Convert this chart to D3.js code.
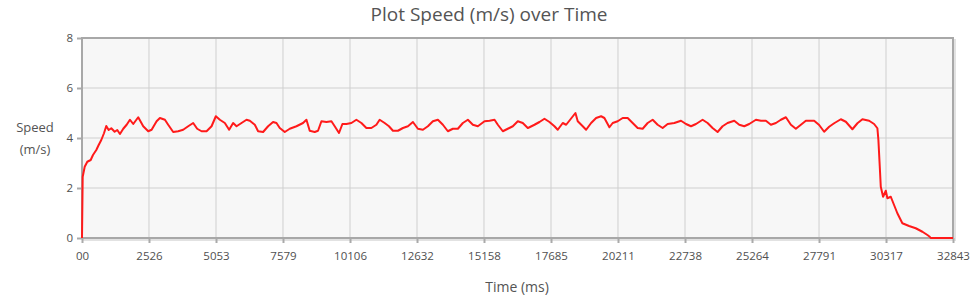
<!doctype html>
<html>
<head>
<meta charset="utf-8">
<script src="https://d3js.org/d3.v7.min.js"></script>
<style>
  body { margin: 0; background: #fff; }
  text { font-family: "Open Sans", sans-serif; fill: #545454; }
</style>
</head>
<body>
<svg width="980" height="298"></svg>
<script>

var timeMs = [0, 26, 102, 200, 328, 414, 539, 629, 727, 829, 915, 1006, 1104, 1232, 1330,
  1431, 1556, 1684, 1808, 1932, 2120, 2309, 2497, 2625, 2813, 2938, 3126, 3250, 3439, 3627,
  3815, 4004, 4192, 4343, 4508, 4697, 4885, 5047, 5198, 5386, 5548, 5699, 5827, 6015, 6203,
  6328, 6516, 6640, 6829, 7017, 7205, 7333, 7457, 7646, 7834, 8086, 8335, 8463, 8587, 8776,
  8900, 9028, 9216, 9405, 9529, 9691, 9819, 9970, 10158, 10346, 10535, 10723, 10911, 11100, 11224,
  11412, 11574, 11725, 11913, 12102, 12290, 12478, 12666, 12855, 13043, 13231, 13420, 13608, 13796, 13985,
  14173, 14361, 14550, 14738, 14926, 15179, 15367, 15555, 15680, 15868, 16056, 16245, 16433, 16621, 16810,
  16873, 17062, 17250, 17438, 17627, 17815, 17939, 18128, 18256, 18406, 18606, 18693, 18881, 19009, 19197,
  19386, 19574, 19698, 19887, 20011, 20199, 20388, 20576, 20764, 20953, 21141, 21329, 21518, 21706, 21894,
  22083, 22335, 22587, 22775, 22963, 23152, 23401, 23589, 23777, 23966, 24154, 24342, 24594, 24783, 24971,
  25159, 25412, 25600, 25788, 25977, 26165, 26353, 26542, 26730, 26918, 27107, 27295, 27419, 27608, 27796,
  27984, 28173, 28361, 28613, 28802, 29050, 29239, 29427, 29680, 29868, 29992, 30030, 30082, 30120, 30207,
  30309, 30369, 30497, 30621, 30745, 30934, 31186, 31438, 31690, 31878, 31966, 32003, 32843];

var speed = [0, 2.45, 2.85, 3.05, 3.12, 3.32, 3.52, 3.72, 3.92, 4.19, 4.48, 4.32, 4.39, 4.25, 4.32,
  4.16, 4.37, 4.53, 4.73, 4.56, 4.83, 4.47, 4.27, 4.33, 4.67, 4.8, 4.73, 4.53, 4.24, 4.27,
  4.33, 4.47, 4.6, 4.37, 4.27, 4.27, 4.47, 4.87, 4.73, 4.6, 4.33, 4.6, 4.47, 4.6, 4.73,
  4.69, 4.53, 4.27, 4.24, 4.47, 4.64, 4.6, 4.4, 4.24, 4.37, 4.47, 4.6, 4.73, 4.29, 4.24,
  4.29, 4.67, 4.64, 4.67, 4.47, 4.2, 4.56, 4.56, 4.6, 4.73, 4.6, 4.4, 4.4, 4.53, 4.73,
  4.6, 4.47, 4.29, 4.29, 4.4, 4.47, 4.64, 4.37, 4.33, 4.47, 4.67, 4.73, 4.53, 4.27, 4.37,
  4.37, 4.6, 4.73, 4.53, 4.47, 4.67, 4.69, 4.73, 4.53, 4.27, 4.37, 4.47, 4.67, 4.6, 4.4,
  4.43, 4.53, 4.64, 4.77, 4.64, 4.47, 4.33, 4.6, 4.53, 4.73, 5.0, 4.67, 4.47, 4.33, 4.6,
  4.8, 4.87, 4.8, 4.43, 4.6, 4.67, 4.8, 4.8, 4.6, 4.4, 4.37, 4.6, 4.73, 4.53, 4.4,
  4.56, 4.6, 4.69, 4.56, 4.47, 4.56, 4.73, 4.6, 4.4, 4.24, 4.47, 4.6, 4.69, 4.53, 4.47,
  4.56, 4.73, 4.69, 4.69, 4.53, 4.6, 4.73, 4.83, 4.53, 4.37, 4.53, 4.69, 4.69, 4.69, 4.52,
  4.25, 4.45, 4.59, 4.75, 4.65, 4.35, 4.59, 4.75, 4.69, 4.56, 4.39, 3.92, 2.85, 2.05, 1.65,
  1.89, 1.59, 1.65, 1.32, 0.99, 0.59, 0.48, 0.39, 0.25, 0.12, 0.05, 0, 0];

var xTickValues = [0, 2526, 5053, 7579, 10106, 12632, 15158, 17685, 20211, 22738, 25264, 27791, 30317, 32843];
var xTickLabels = ["00", "2526", "5053", "7579", "10106", "12632", "15158", "17685", "20211", "22738", "25264", "27791", "30317", "32843"];
var yTickValues = [0, 2, 4, 6, 8];

var data = timeMs.map(function(t, i) { return {t: t, v: speed[i]}; });

var svg = d3.select("svg");
var plotLeft = 82, plotRight = 953, plotTop = 38, plotBottom = 238;
var width = plotRight - plotLeft, height = plotBottom - plotTop;

var x = d3.scaleLinear().domain([0, 32843]).range([0, width]);
var y = d3.scaleLinear().domain([0, 8]).range([height, 0]);

svg.append("text")
   .attr("x", 489)
   .attr("y", 21)
   .attr("text-anchor", "middle")
   .attr("font-size", "19px")
   .text("Plot Speed (m/s) over Time");

var g = svg.append("g").attr("transform", "translate(" + plotLeft + "," + plotTop + ")");

// soft shadow on right/bottom
g.append("rect")
 .attr("x", 2).attr("y", 2)
 .attr("width", width).attr("height", height)
 .attr("fill", "none")
 .attr("stroke", "#e2e2e2")
 .attr("stroke-width", 2);

g.append("rect")
 .attr("width", width).attr("height", height)
 .attr("fill", "#f7f7f7");

// grid
g.append("g")
 .selectAll("line")
 .data(xTickValues.slice(1, -1))
 .enter().append("line")
 .attr("x1", function(d) { return x(d); })
 .attr("x2", function(d) { return x(d); })
 .attr("y1", 0).attr("y2", height)
 .attr("stroke", "#cfcfcf");

g.append("g")
 .selectAll("line")
 .data(yTickValues.slice(1, -1))
 .enter().append("line")
 .attr("y1", function(d) { return y(d); })
 .attr("y2", function(d) { return y(d); })
 .attr("x1", 0).attr("x2", width)
 .attr("stroke", "#cfcfcf");

// axes
var xAxis = g.append("g")
 .attr("transform", "translate(0," + height + ")")
 .call(d3.axisBottom(x).tickValues(xTickValues).tickSize(5).tickPadding(9)
   .tickFormat(function(d, i) { return xTickLabels[i]; }));

var yAxis = g.append("g")
 .call(d3.axisLeft(y).tickValues(yTickValues).tickSize(5).tickPadding(4));

[xAxis, yAxis].forEach(function(a) {
  a.select(".domain").remove();
  a.selectAll("line").attr("stroke", "#aaa").attr("stroke-width", 2);
  a.selectAll("text").attr("font-size", "11.5px").attr("font-family", "Open Sans, sans-serif").style("fill", "#505050");
});

g.append("rect")
 .attr("width", width).attr("height", height)
 .attr("fill", "none")
 .attr("stroke", "#a8a8a8")
 .attr("stroke-width", 2);

var line = d3.line()
  .x(function(d) { return x(d.t); })
  .y(function(d) { return y(d.v); });

g.append("path")
 .datum(data)
 .attr("fill", "none")
 .attr("stroke", "#ff1a1a")
 .attr("stroke-width", 2)
 .attr("stroke-linejoin", "round")
 .attr("d", line);

svg.append("text")
   .attr("x", 35).attr("y", 132)
   .attr("text-anchor", "middle")
   .attr("font-size", "13px")
   .text("Speed");
svg.append("text")
   .attr("x", 35).attr("y", 154)
   .attr("text-anchor", "middle")
   .attr("font-size", "13px")
   .text("(m/s)");

svg.append("text")
   .attr("x", 517).attr("y", 292)
   .attr("text-anchor", "middle")
   .attr("font-size", "14px")
   .text("Time (ms)");

</script>
</body>
</html>
